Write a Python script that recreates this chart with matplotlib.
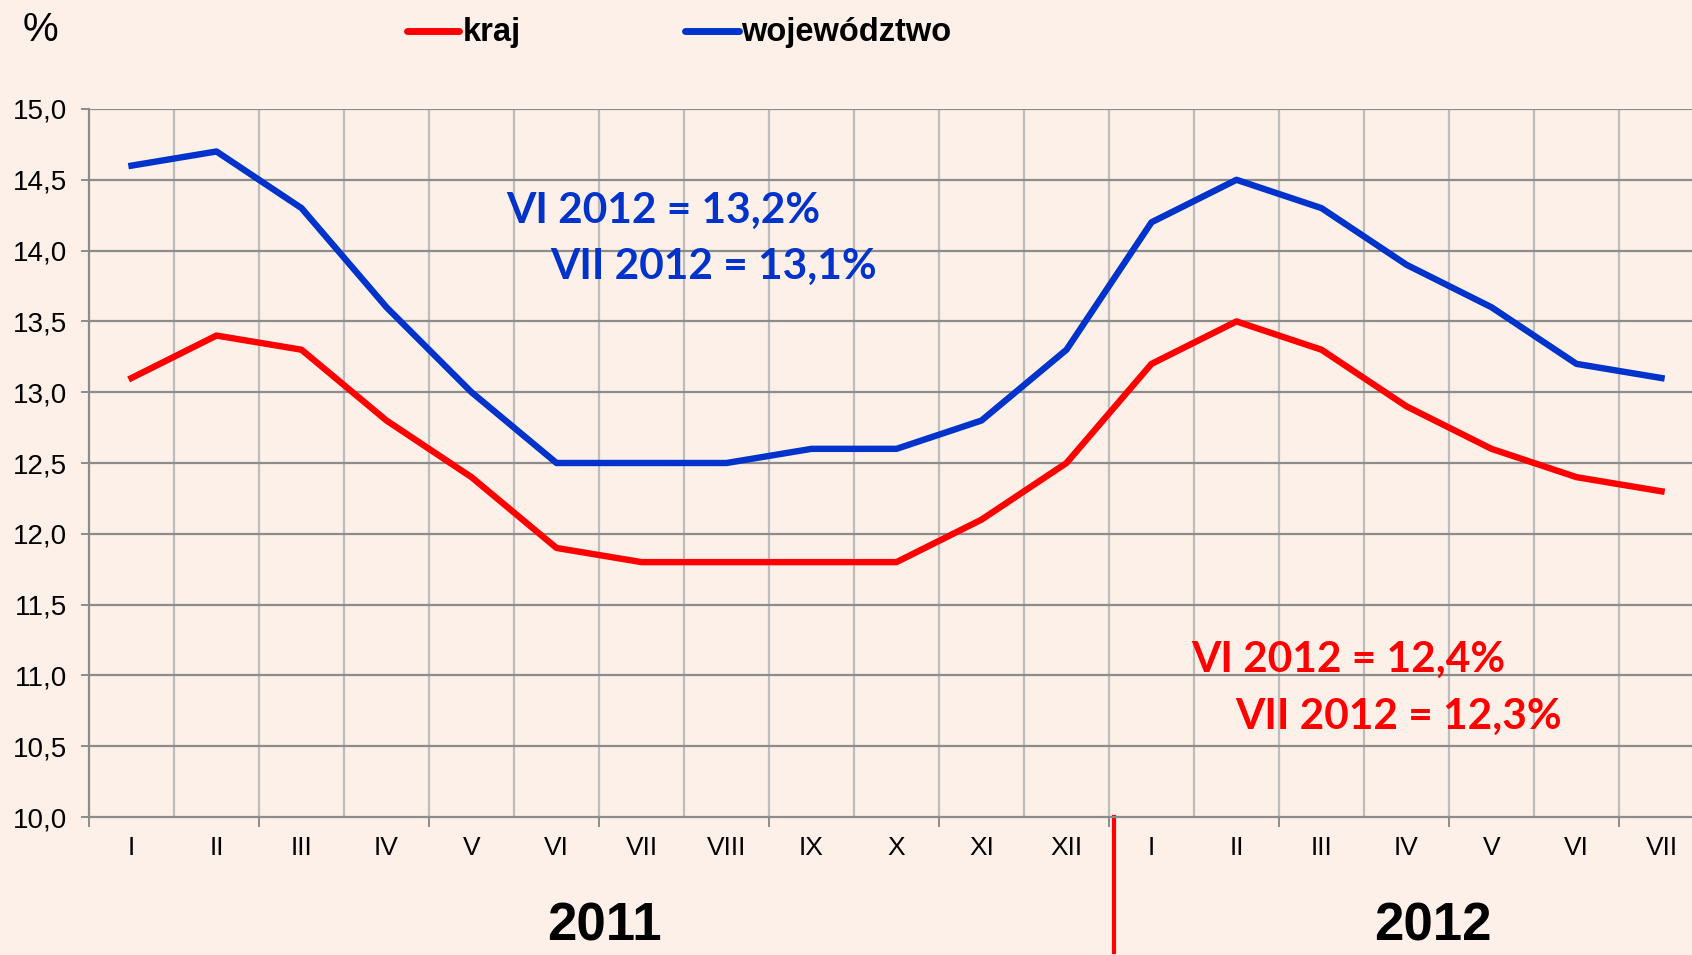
import numpy as np
import matplotlib.pyplot as plt
from matplotlib.lines import Line2D

# dane
miesiace = ['I', 'II', 'III', 'IV', 'V', 'VI', 'VII', 'VIII', 'IX', 'X', 'XI', 'XII',
            'I', 'II', 'III', 'IV', 'V', 'VI', 'VII']
kraj = [13.1, 13.4, 13.3, 12.8, 12.4, 11.9, 11.8, 11.8, 11.8, 11.8, 12.1, 12.5,
        13.2, 13.5, 13.3, 12.9, 12.6, 12.4, 12.3]
wojewodztwo = [14.6, 14.7, 14.3, 13.6, 13.0, 12.5, 12.5, 12.5, 12.6, 12.6, 12.8, 13.3,
               14.2, 14.5, 14.3, 13.9, 13.6, 13.2, 13.1]
lata = ['2011', '2012']
opis_woj = ['VI 2012 = 13,2%', 'VII 2012 = 13,1%']
opis_kraj = ['VI 2012 = 12,4%', 'VII 2012 = 12,3%']

TLO = '#FDF0E8'
CZERWONY = '#FF0000'
NIEBIESKI = '#0033CC'
SANS = ['Liberation Sans', 'DejaVu Sans']

W, H = 1692, 955
fig = plt.figure(figsize=(W / 100, H / 100), dpi=100, facecolor=TLO)

def px(x, y):
    # piksele -> ulamki figury
    return x / W, 1 - y / H

ax = fig.add_axes([89 / W, 1 - 817 / H, 1615 / W, 708 / H])
ax.set_facecolor(TLO)

x = np.arange(len(miesiace))
ax.set_xlim(-0.5, len(miesiace) - 0.5)
ax.set_ylim(10, 15)

# siatka
for b in np.arange(0.5, len(miesiace) - 0.5, 1):
    ax.axvline(b, color='#BDBDBD', lw=1.6, zorder=1)
for yv in np.arange(10.5, 15.01, 0.5):
    ax.axhline(yv, color='#8C8C8C', lw=1.6, zorder=1)

ax.plot(x, wojewodztwo, color=NIEBIESKI, lw=4.6, zorder=3)
ax.plot(x, kraj, color=CZERWONY, lw=4.6, zorder=3)

for s in ['top', 'right']:
    ax.spines[s].set_visible(False)
for s in ['left', 'bottom']:
    ax.spines[s].set_color('#8C8C8C')
    ax.spines[s].set_linewidth(1.6)

ax.set_yticks(np.arange(10, 15.01, 0.5))
ax.set_yticklabels([f'{v:.1f}'.replace('.', ',') for v in np.arange(10, 15.01, 0.5)],
                   fontsize=20, family=SANS)
ax.tick_params(axis='y', length=6, width=1.4, color='#8C8C8C', pad=10)

ax.set_xticks(x)
ax.set_xticklabels(miesiace, fontsize=19, family=SANS)
ax.tick_params(axis='x', which='major', length=0, pad=14)
ax.set_xticks(np.arange(-0.5, len(miesiace), 2), minor=True)
ax.tick_params(axis='x', which='minor', length=7, width=1.4, color='#8C8C8C')

# linia oddzielajaca lata
sep = Line2D([11.56, 11.56], [0, -0.19], transform=ax.get_xaxis_transform(),
             color=CZERWONY, lw=3, clip_on=False)
ax.add_line(sep)

# lata
fig.text(*px(604, 926), lata[0], fontsize=38, fontweight='bold', family=SANS,
         ha='center', va='center')
fig.text(*px(1433, 926), lata[1], fontsize=38, fontweight='bold', family=SANS,
         ha='center', va='center')

# legenda
fig.text(*px(40, 30), '%', fontsize=29, family=SANS, ha='center', va='center')
fig.add_artist(Line2D([407 / W, 459 / W], [1 - 31 / H] * 2, color=CZERWONY, lw=5,
                      solid_capstyle='round'))
fig.text(*px(463, 32), 'kraj', fontsize=23.5, fontweight='bold', family=SANS,
         ha='left', va='center')
fig.add_artist(Line2D([685 / W, 739 / W], [1 - 31 / H] * 2, color=NIEBIESKI, lw=5,
                      solid_capstyle='round'))
fig.text(*px(741, 32), 'województwo', fontsize=23.5, fontweight='bold', family=SANS,
         ha='left', va='center')

# opisy
fig.text(*px(506, 211), opis_woj[0], fontsize=30.5, fontweight='bold', family='Lato',
         color=NIEBIESKI, ha='left', va='center')
fig.text(*px(550, 267), opis_woj[1], fontsize=30.5, fontweight='bold', family='Lato',
         color=NIEBIESKI, ha='left', va='center')
fig.text(*px(1191, 660), opis_kraj[0], fontsize=30.5, fontweight='bold', family='Lato',
         color=CZERWONY, ha='left', va='center')
fig.text(*px(1235, 717), opis_kraj[1], fontsize=30.5, fontweight='bold', family='Lato',
         color=CZERWONY, ha='left', va='center')

fig.savefig('out.png', dpi=100, facecolor=TLO)
